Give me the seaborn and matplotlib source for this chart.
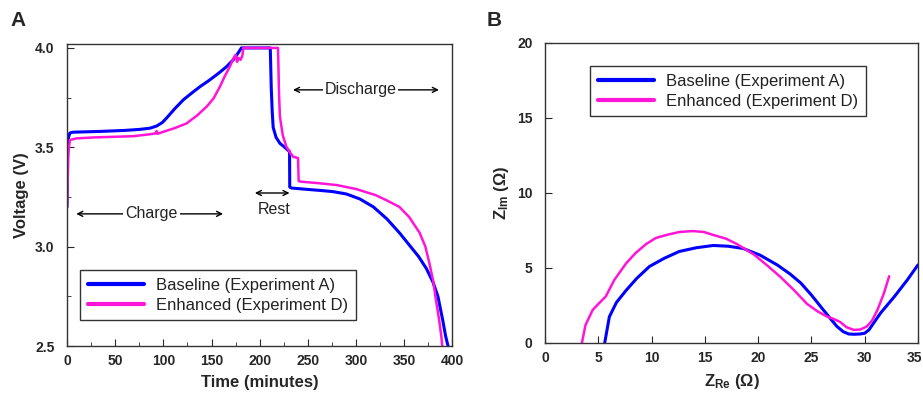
import numpy as np
import pandas as pd
import matplotlib
matplotlib.use("Agg")
import matplotlib.pyplot as plt
from matplotlib.ticker import MultipleLocator, FuncFormatter
from matplotlib.transforms import blended_transform_factory, ScaledTranslation
import seaborn as sns

# ---- Panel A: charge / rest / discharge voltage profiles ----
base_time = [0, 0.5, 1.5, 3, 6, 20, 35, 60, 75, 86, 93, 99, 103.5, 112, 121, 130, 138,
             147, 155, 160, 165.6, 172.5, 177, 181, 195, 211, 211.5, 212, 213, 214,
             217, 221, 226, 231, 231.2, 233, 250, 265, 276, 290, 304, 318, 332, 345,
             355, 365, 373, 380, 385, 390, 393, 395.5]
base_volt = [3.20, 3.45, 3.55, 3.572, 3.576, 3.578, 3.58, 3.585, 3.59, 3.596, 3.607, 3.625,
             3.648, 3.695, 3.74, 3.775, 3.805, 3.835, 3.864, 3.883, 3.906, 3.94, 3.97,
             4.00, 4.00, 4.00, 3.90, 3.80, 3.68, 3.60, 3.55, 3.52, 3.50, 3.478, 3.30,
             3.295, 3.288, 3.282, 3.277, 3.265, 3.24, 3.20, 3.14, 3.07, 3.01, 2.95, 2.89,
             2.82, 2.75, 2.63, 2.55, 2.50]

enh_time = [0, 0.5, 1.5, 3, 10, 30, 50, 69, 85, 92, 93, 94, 100, 112, 124, 135, 145,
            152, 158.7, 164, 169, 173, 175, 176.5, 178, 180, 182, 183, 219, 219.5, 220,
            221, 224, 227.7, 232, 234.6, 239.8, 240.5, 243, 260, 280, 300, 320, 331,
            345, 355, 366, 372, 376, 380, 383, 386, 388.5, 389.5]
enh_volt = [3.20, 3.30, 3.48, 3.537, 3.545, 3.55, 3.553, 3.556, 3.565, 3.57, 3.582, 3.568,
            3.578, 3.597, 3.62, 3.66, 3.705, 3.745, 3.805, 3.86, 3.906, 3.95, 3.965, 3.93,
            3.95, 3.94, 3.96, 4.00, 4.00, 3.90, 3.78, 3.654, 3.56, 3.503, 3.47, 3.453,
            3.446, 3.33, 3.327, 3.32, 3.31, 3.29, 3.26, 3.235, 3.20, 3.15, 3.07, 3.00,
            2.92, 2.83, 2.73, 2.64, 2.55, 2.50]

# ---- Panel B: impedance (Nyquist) curves ----
base_zre = [5.6, 5.75, 6.04, 6.7, 7.6, 8.6, 9.8, 11.2, 12.6, 14.2, 15.8, 17.2, 18.6,
            20.2, 21.8, 23.0, 24.0, 25.0, 25.9, 26.7, 27.4, 28.0, 28.5, 29.0, 29.6,
            30.0, 30.4, 31.5, 32.8, 34.0, 35.0]
base_zim = [0.0, 0.6, 1.75, 2.7, 3.5, 4.3, 5.1, 5.65, 6.1, 6.35, 6.5, 6.45, 6.3,
            5.85, 5.2, 4.6, 4.0, 3.2, 2.4, 1.7, 1.1, 0.75, 0.6, 0.58, 0.6,
            0.65, 0.87, 2.0, 3.1, 4.2, 5.2]

enh_zre = [3.46, 3.8, 4.47, 5.0, 5.7, 6.5, 7.6, 8.5, 9.5, 10.4, 11.4, 12.6, 13.9,
           14.9, 15.8, 17.0, 18.0, 18.8, 19.6, 20.8, 22.1, 23.4, 24.6, 25.6, 26.5,
           27.1, 27.7, 28.3, 29.0, 29.6, 30.2, 30.7, 31.2, 31.8, 32.3]
enh_zim = [0.0, 1.2, 2.2, 2.6, 3.1, 4.2, 5.3, 6.0, 6.6, 7.0, 7.2, 7.4, 7.46,
           7.4, 7.2, 6.95, 6.6, 6.25, 5.9, 5.2, 4.4, 3.5, 2.6, 2.1, 1.75,
           1.6, 1.4, 1.05, 0.87, 0.9, 1.1, 1.5, 2.2, 3.3, 4.45]

series_names = ["Baseline (Experiment A)", "Enhanced (Experiment D)"]
series_colors = ["#0000ff", "#ff14d8"]
zre_max = 35

sns.set_style("ticks")
plt.rcParams["font.family"] = ["Liberation Sans", "DejaVu Sans"]
plt.rcParams["mathtext.fontset"] = "custom"
plt.rcParams["mathtext.rm"] = "Liberation Sans"
plt.rcParams["mathtext.bf"] = "Liberation Sans:bold"

volt_df = pd.concat([
    pd.DataFrame({"time": base_time, "volt": base_volt, "series": series_names[0]}),
    pd.DataFrame({"time": enh_time, "volt": enh_volt, "series": series_names[1]}),
], ignore_index=True)
eis_df = pd.concat([
    pd.DataFrame({"zre": base_zre, "zim": base_zim, "series": series_names[0]}),
    pd.DataFrame({"zre": enh_zre, "zim": enh_zim, "series": series_names[1]}),
], ignore_index=True)
palette = dict(zip(series_names, series_colors))

fig = plt.figure(figsize=(9.23, 3.99), dpi=100)
axA = fig.add_axes([0.0726, 0.1328, 0.4175, 0.7570])
axB = fig.add_axes([0.5905, 0.1404, 0.4040, 0.7519])


def style_axes(ax):
    for sp in ax.spines.values():
        sp.set_visible(True)
        sp.set_color("#333333")
        sp.set_linewidth(1.0)
    ax.tick_params(direction="in", which="both", top=False, right=False, labelsize=10)
    ax.tick_params(axis="x", pad=6)
    ax.tick_params(axis="y", pad=9)
    ax.tick_params(which="major", length=5)
    ax.tick_params(which="minor", length=3)
    for lbl in ax.get_xticklabels() + ax.get_yticklabels():
        lbl.set_fontweight("bold")


def style_legend(leg):
    leg.get_frame().set_linewidth(1.0)
    for line in leg.get_lines():
        line.set_linewidth(3.0)
    for t in leg.get_texts():
        t.set_color("#222222")


leg_kw = dict(borderaxespad=0, fontsize=12, frameon=True, fancybox=False,
              edgecolor="black", handlelength=3.4, handletextpad=0.7,
              borderpad=0.45, labelspacing=0.3)

# ---- Panel A ----
for name in series_names:
    sub = volt_df[volt_df["series"] == name]
    sns.lineplot(data=sub, x="time", y="volt", ax=axA, sort=False, estimator=None,
                 color=palette[name], lw=2.2 if name == series_names[0] else 1.8,
                 label=name)
axA.set_xlim(0, 400)
axA.set_ylim(2.5, 4.02)
axA.xaxis.set_major_locator(MultipleLocator(50))
axA.xaxis.set_minor_locator(MultipleLocator(25))
axA.yaxis.set_major_locator(MultipleLocator(0.5))
axA.yaxis.set_minor_locator(MultipleLocator(0.25))
axA.set_xlabel("Time (minutes)", fontsize=12, fontweight="bold", labelpad=5)
axA.set_ylabel("Voltage (V)", fontsize=12, fontweight="bold", labelpad=4)
style_axes(axA)

ann_font = dict(fontsize=11.5, color="#222222")
arrow = dict(arrowstyle="<->", color="black", lw=1.0, shrinkA=0, shrinkB=0,
             mutation_scale=9)
axA.annotate("", xy=(9.6, 3.165), xytext=(162, 3.165), arrowprops=arrow)
axA.text(87.5, 3.165, "Charge", ha="center", va="center",
         bbox=dict(fc="white", ec="none", pad=1.5), **ann_font)
axA.annotate("", xy=(195, 3.27), xytext=(231, 3.27), arrowprops=arrow)
axA.text(215, 3.185, "Rest", ha="center", va="center", **ann_font)
axA.annotate("", xy=(234.6, 3.789), xytext=(386, 3.789), arrowprops=arrow)
axA.text(305, 3.789, "Discharge", ha="center", va="center",
         bbox=dict(fc="white", ec="none", pad=1.0), **ann_font)

legA = axA.legend(loc="lower left", bbox_to_anchor=(0.034, 0.086), **leg_kw)
style_legend(legA)

# ---- Panel B ----
for name in series_names:
    sub = eis_df[eis_df["series"] == name]
    sns.lineplot(data=sub, x="zre", y="zim", ax=axB, sort=False, estimator=None,
                 color=palette[name], lw=2.2 if name == series_names[0] else 1.8,
                 label=name)
axB.set_xlim(0, zre_max)
axB.set_ylim(0, 20)
axB.xaxis.set_major_locator(MultipleLocator(5))
axB.yaxis.set_major_locator(MultipleLocator(5))
# the last x label sits flush against the figure edge, so it is drawn right-aligned
axB.xaxis.set_major_formatter(FuncFormatter(
    lambda v, pos: "" if abs(v - zre_max) < 1e-9 else f"{v:g}"))
axB.set_xlabel(r"$\mathbf{Z_{Re}}$ $\mathbf{(\Omega)}$", fontsize=12, labelpad=5)
axB.set_ylabel(r"$\mathbf{Z_{Im}}$ $\mathbf{(\Omega)}$", fontsize=12, labelpad=4)
style_axes(axB)
edge_tr = blended_transform_factory(axB.transData, axB.transAxes) + \
    ScaledTranslation(3 / 72, -6 / 72, fig.dpi_scale_trans)
axB.text(zre_max, 0, f"{zre_max:g}", transform=edge_tr, ha="right", va="top",
         fontsize=10, fontweight="bold")

legB = axB.legend(loc="upper left", bbox_to_anchor=(0.121, 0.923), **leg_kw)
style_legend(legB)

# Panel letters
fig.text(18 / 923, 1 - 21 / 399, "A", fontsize=15, fontweight="bold", ha="center", va="center")
fig.text(494 / 923, 1 - 20 / 399, "B", fontsize=15, fontweight="bold", ha="center", va="center")

fig.savefig("out.png", dpi=100, facecolor="white")
